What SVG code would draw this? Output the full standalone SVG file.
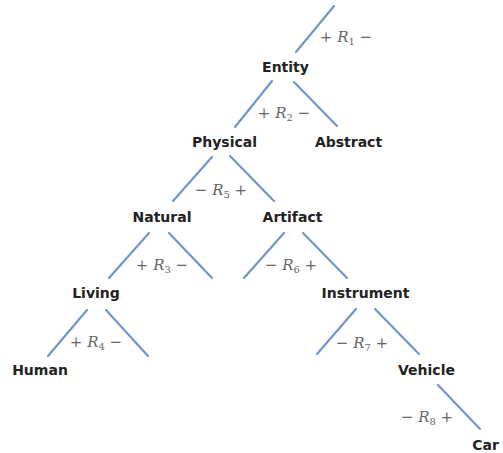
<svg xmlns="http://www.w3.org/2000/svg" width="503" height="453" viewBox="0 0 503 453">
<style>
.n{font-family:"DejaVu Sans",sans-serif;font-weight:bold;font-size:14px;fill:#222;text-anchor:middle}
.l{font-family:"DejaVu Serif","Liberation Serif",serif;font-size:15px;fill:#666;text-anchor:middle}
.l .r{font-style:italic}
.l .s{font-size:10px}
.e{stroke:#7196ca;stroke-width:2.2;stroke-linecap:round;fill:none}
</style>
<rect width="503" height="453" fill="#fff"/>
<g id="connectors" class="e">
<line x1="334" y1="6" x2="296" y2="52"/>
<line x1="272" y1="81" x2="235" y2="127"/>
<line x1="294" y1="82" x2="337" y2="126"/>
<line x1="212" y1="157" x2="173" y2="201"/>
<line x1="230" y1="156" x2="274" y2="201"/>
<line x1="149" y1="233" x2="109" y2="278"/>
<line x1="169" y1="233" x2="212" y2="278"/>
<line x1="284" y1="233" x2="244" y2="278"/>
<line x1="303" y1="233" x2="347" y2="278"/>
<line x1="87" y1="310" x2="48" y2="356"/>
<line x1="106" y1="310" x2="148" y2="356"/>
<line x1="356" y1="309" x2="317" y2="354"/>
<line x1="375" y1="309" x2="419" y2="354"/>
<line x1="438" y1="385" x2="480" y2="429"/>
</g>
<g id="labels">
<text class="l" x="346" y="42">+ <tspan class="r">R</tspan><tspan class="s" dy="3">1</tspan><tspan dy="-3"> −</tspan></text>
<text class="l" x="284" y="118">+ <tspan class="r">R</tspan><tspan class="s" dy="3">2</tspan><tspan dy="-3"> −</tspan></text>
<text class="l" x="221" y="195">− <tspan class="r">R</tspan><tspan class="s" dy="3">5</tspan><tspan dy="-3"> +</tspan></text>
<text class="l" x="162" y="270">+ <tspan class="r">R</tspan><tspan class="s" dy="3">3</tspan><tspan dy="-3"> −</tspan></text>
<text class="l" x="291" y="270">− <tspan class="r">R</tspan><tspan class="s" dy="3">6</tspan><tspan dy="-3"> +</tspan></text>
<text class="l" x="96" y="347">+ <tspan class="r">R</tspan><tspan class="s" dy="3">4</tspan><tspan dy="-3"> −</tspan></text>
<text class="l" x="362" y="348">− <tspan class="r">R</tspan><tspan class="s" dy="3">7</tspan><tspan dy="-3"> +</tspan></text>
<text class="l" x="427" y="422">− <tspan class="r">R</tspan><tspan class="s" dy="3">8</tspan><tspan dy="-3"> +</tspan></text>
</g>
<g id="entity"><text class="n" x="285.5" y="72">Entity</text></g>
<g id="physical"><text class="n" x="224.5" y="147">Physical</text></g>
<g id="abstract"><text class="n" x="348.5" y="147">Abstract</text></g>
<g id="natural"><text class="n" x="162" y="222">Natural</text></g>
<g id="artifact"><text class="n" x="292.5" y="222">Artifact</text></g>
<g id="living"><text class="n" x="96" y="298">Living</text></g>
<g id="instrument"><text class="n" x="365.5" y="298">Instrument</text></g>
<g id="human"><text class="n" x="40" y="375">Human</text></g>
<g id="vehicle"><text class="n" x="426.5" y="375">Vehicle</text></g>
<g id="car"><text class="n" x="485.5" y="450">Car</text></g>
</svg>
